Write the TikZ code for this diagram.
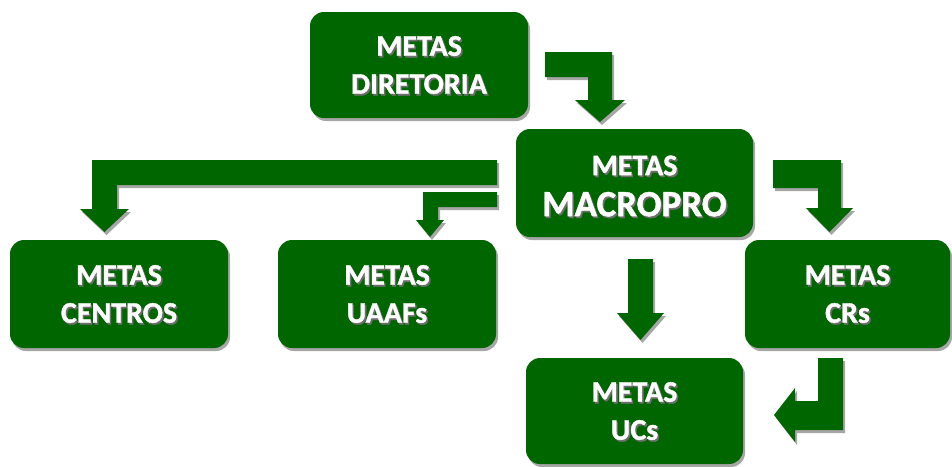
\documentclass[tikz,border=0pt]{standalone}
\usepackage{fontspec}
\setmainfont{Carlito}[BoldFeatures={FakeBold=1.2}]
\usetikzlibrary{shadows}

\definecolor{mgreen}{HTML}{006600}
\definecolor{shgray}{HTML}{A6A6A6}
\definecolor{txtsh}{HTML}{6E6E6E}

\tikzset{
  box/.style={fill=mgreen, draw=none, rounded corners=14pt, inner sep=0pt,
    drop shadow={shadow xshift=2pt, shadow yshift=-3pt, fill=shgray, opacity=1}},
  blockarrow/.style={fill=mgreen, draw=none,
    drop shadow={shadow xshift=2pt, shadow yshift=-3pt, fill=shgray, opacity=1}},
  lbl/.style={text=white, align=center, inner sep=0pt,
    font=\bfseries\fontsize{30}{38}\selectfont},
  lblsh/.style={lbl, text=txtsh},
}

% white label with a soft grey shadow, centred on a box (optional vertical shift)
\newcommand{\boxlabel}[3][0pt]{%
  \node[lblsh, xshift=1.5pt, yshift=#1-1.8pt] at (#2.center) {#3};
  \node[lbl, yshift=#1] (#2-text) at (#2.center) {#3};
}

\begin{document}
\begin{tikzpicture}[x=1pt, y=-1pt]
\useasboundingbox (0,0) rectangle (952,466);

% boxes
\node[box, minimum width=218pt, minimum height=106pt] (dir) at (419,65) {};
\node[box, minimum width=237pt, minimum height=108pt] (macro) at (634.5,183) {};
\node[box, minimum width=218pt, minimum height=108pt] (centros) at (119,294) {};
\node[box, minimum width=218pt, minimum height=108pt] (uaafs) at (387,294) {};
\node[box, minimum width=205pt, minimum height=108pt] (crs) at (847.5,294) {};
\node[box, minimum width=217pt, minimum height=106pt] (ucs) at (634.5,411) {};

% labels
\boxlabel{dir}{METAS\\DIRETORIA}
\boxlabel[-3pt]{macro}{METAS\\[3pt]{\fontsize{37}{42}\selectfont MACROPRO}}
\boxlabel{centros}{METAS\\CENTROS}
\boxlabel{uaafs}{METAS\\UAAFs}
\boxlabel{crs}{METAS\\CRs}
\boxlabel{ucs}{METAS\\UCs}

% bent block arrows
% diretoria -> macropro
\fill[blockarrow] (545,52) -- (612,52) -- (612,100) -- (625,100) -- (600,122)
  -- (575,100) -- (588,100) -- (588,77) -- (545,77) -- cycle;
% macropro -> centros
\fill[blockarrow] (497,160) -- (92,160) -- (92,209) -- (80,209) -- (104.5,232)
  -- (129,209) -- (117,209) -- (117,185) -- (497,185) -- cycle;
% macropro -> uaafs
\fill[blockarrow] (497,192) -- (423,192) -- (423,220) -- (416,220) -- (430,237)
  -- (444,220) -- (438,220) -- (438,207) -- (497,207) -- cycle;
% macropro -> crs
\fill[blockarrow] (773,160) -- (841,160) -- (841,208) -- (853,208) -- (829.5,232)
  -- (806,208) -- (818,208) -- (818,188) -- (773,188) -- cycle;
% macropro -> ucs
\fill[blockarrow] (628,259) -- (653,259) -- (653,313) -- (664,313) -- (640.5,340)
  -- (617,313) -- (628,313) -- cycle;
% crs -> ucs
\fill[blockarrow] (818,358) -- (843,358) -- (843,430) -- (795,430) -- (795,442)
  -- (774,415) -- (795,388) -- (795,401) -- (818,401) -- cycle;
\end{tikzpicture}
\end{document}
